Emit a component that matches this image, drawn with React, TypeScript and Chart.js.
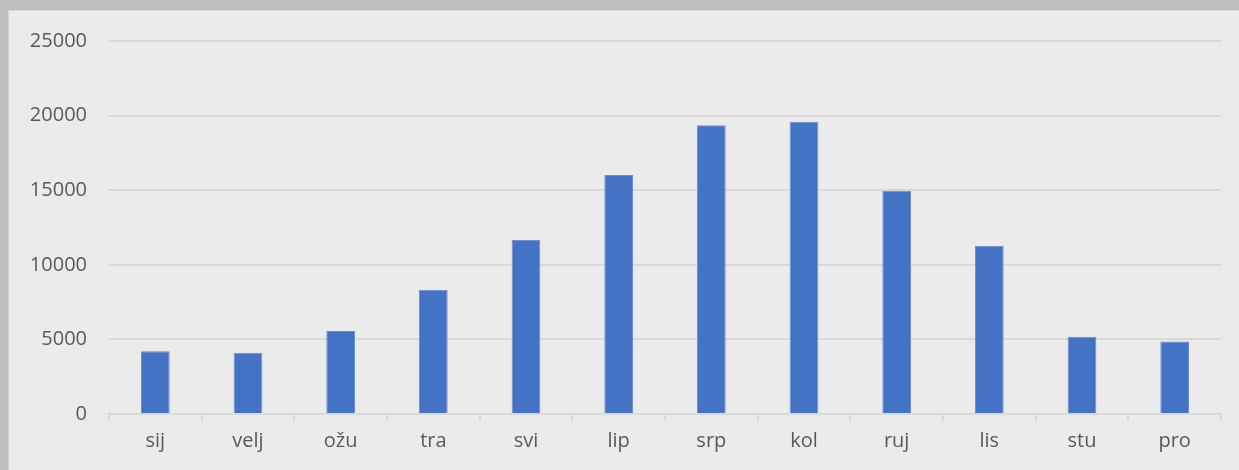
import React, { useEffect, useRef } from "react";
import { Chart, registerables } from "chart.js";

Chart.register(...registerables);

const categories = ["sij", "velj", "ožu", "tra", "svi", "lip", "srp", "kol", "ruj", "lis", "stu", "pro"];
const values = [4200, 4100, 5560, 8320, 11660, 16020, 19350, 19580, 14960, 11270, 5180, 4860];
const yTicks = [0, 5000, 10000, 15000, 20000, 25000];

export default function App() {
  const ref = useRef<HTMLCanvasElement | null>(null);

  useEffect(() => {
    document.body.style.margin = "10px 0 0 8px";
    document.body.style.background = "#bfbfbf";
    const ctx = ref.current!;
    const chart = new Chart(ctx, {
      type: "bar",
      data: {
        labels: categories,
        datasets: [
          {
            data: values,
            backgroundColor: "#4472c4",
            borderColor: "#6a8fd2",
            borderWidth: 1,
            categoryPercentage: 1,
            barPercentage: 0.31,
          },
        ],
      },
      options: {
        animation: false,
        responsive: false,
        maintainAspectRatio: false,
        layout: { padding: { left: 0, right: 18, top: 30, bottom: 0 } },
        plugins: { legend: { display: false }, tooltip: { enabled: false } },
        scales: {
          x: {
            offset: true,
            grid: {
              offset: true,
              drawOnChartArea: false,
              drawTicks: true,
              tickLength: 7,
              color: "#d9d9d9",
              lineWidth: 2,
            },
            border: { color: "#d9d9d9", width: 2 },
            ticks: {
              color: "#595959",
              font: { family: "'Open Sans'", size: 20 },
              padding: 8,
              maxRotation: 0,
            },
            afterFit: (s: any) => {
              s.height = 56;
              s.paddingLeft = 0;
              s.paddingRight = 0;
            },
          },
          y: {
            min: 0,
            max: 25000,
            afterBuildTicks: (s: any) => {
              s.ticks = yTicks.map((v) => ({ value: v }));
            },
            grid: { color: "#d9d9d9", lineWidth: 2, drawTicks: false },
            border: { display: false },
            ticks: {
              color: "#595959",
              font: { family: "'Open Sans'", size: 20 },
              padding: 22,
              callback: (v: any) => String(v),
            },
            afterFit: (s: any) => {
              s.width = 100;
              s.paddingTop = 0;
              s.paddingBottom = 0;
            },
          },
        },
      },
    });
    return () => chart.destroy();
  }, []);

  return (
    <div
      style={{
        width: 1231,
        height: 460,
        background: "#ebebeb",
        borderTop: "1px solid #d6d6d6",
        borderLeft: "1px solid #d6d6d6",
        boxSizing: "border-box",
      }}
    >
      <canvas ref={ref} width={1230} height={459} style={{ display: "block" }} />
    </div>
  );
}
